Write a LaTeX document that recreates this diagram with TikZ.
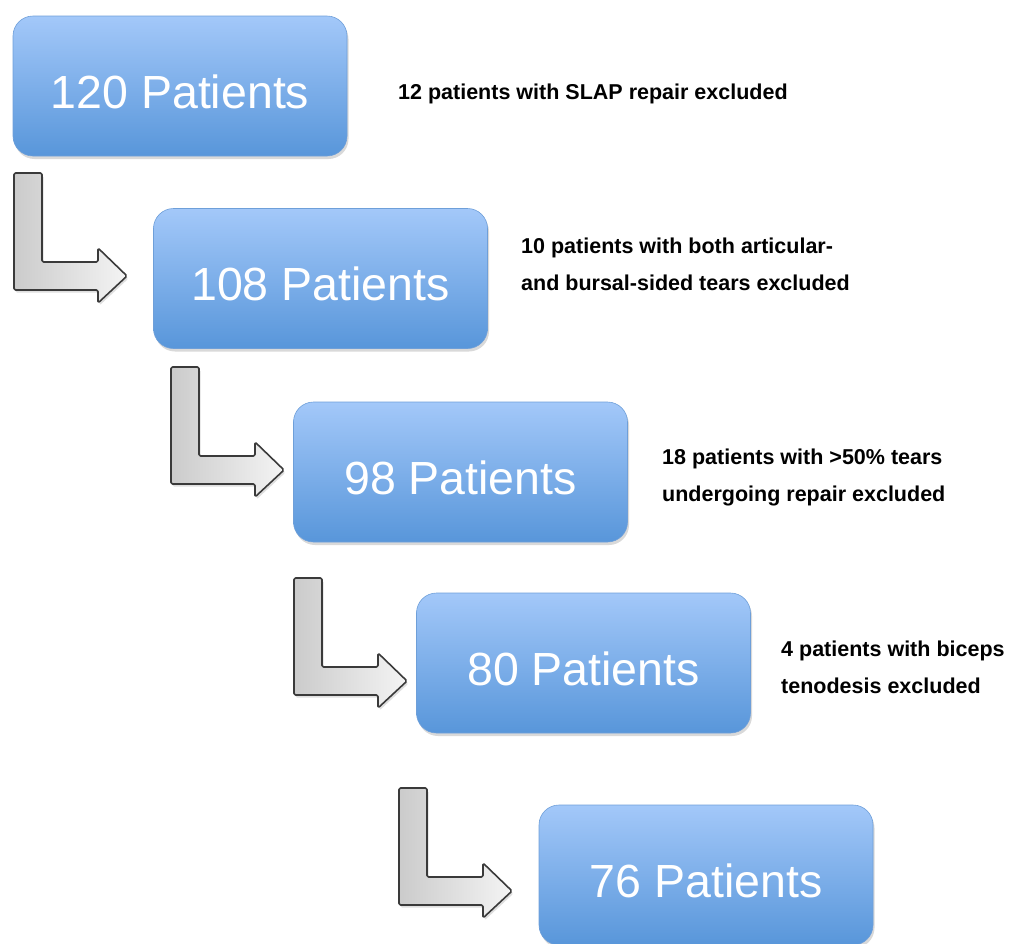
\documentclass[tikz,border=0pt]{standalone}
\usepackage{fontspec}
\setmainfont{Liberation Sans}
\usetikzlibrary{shadows}
\definecolor{boxtop}{HTML}{A3C8F9}
\definecolor{boxbot}{HTML}{5896DA}
\definecolor{boxedge}{HTML}{6E9FD9}
\definecolor{arrleft}{HTML}{CBCBCB}
\definecolor{arrright}{HTML}{F4F4F4}
\definecolor{arredge}{HTML}{3A3A3A}
\tikzset{
  patbox/.style={rounded corners=20pt, minimum width=334pt, minimum height=140pt,
    top color=boxtop, bottom color=boxbot, draw=boxedge, line width=0.6pt,
    text=white, font=\fontsize{46.5}{55}\selectfont, text height=44pt, text depth=0pt,
    inner sep=0pt,
    drop shadow={shadow xshift=1.5pt, shadow yshift=-3pt, opacity=0.3}},
  exlabel/.style={font=\bfseries\fontsize{21.5}{37}\selectfont, align=left,
    anchor=base west, inner sep=0pt, text=black},
  arrowstyle/.style={left color=arrleft, right color=arrright, draw=arredge,
    line width=1.6pt, rounded corners=1.5pt, line join=round,
    drop shadow={shadow xshift=1.5pt, shadow yshift=-2.5pt, opacity=0.25}},
  larrow/.pic={
    \draw[arrowstyle] (0,0) -- (28,0) -- (28,89) -- (84,89) -- (84,75)
      -- (113,103) -- (84,130) -- (84,117) -- (0,117) -- cycle;
  }
}
\begin{document}
\begin{tikzpicture}[x=1pt,y=-1pt]
\useasboundingbox (0,0) rectangle (1009,943);
\node[patbox] (b1) at (180,86) {120 Patients};
\node[patbox] (b2) at (320.5,278.5) {108 Patients};
\node[patbox] (b3) at (460.5,472) {98 Patients};
\node[patbox] (b4) at (583.5,663) {80 Patients};
\node[patbox] (b5) at (706,875) {76 Patients};
\pic (a1) at (14,173) {larrow};
\pic (a2) at (171,367) {larrow};
\pic (a3) at (294,578) {larrow};
\pic (a4) at (399,788) {larrow};
\node[exlabel] (l1) at (398,99) {12 patients with SLAP repair excluded};
\node[exlabel] (l2) at (521,290) {10 patients with both articular-\\and bursal-sided tears excluded};
\node[exlabel] (l3) at (662,501) {18 patients with >50\% tears\\undergoing repair excluded};
\node[exlabel] (l4) at (781,693) {4 patients with biceps\\tenodesis excluded};
\end{tikzpicture}
\end{document}
